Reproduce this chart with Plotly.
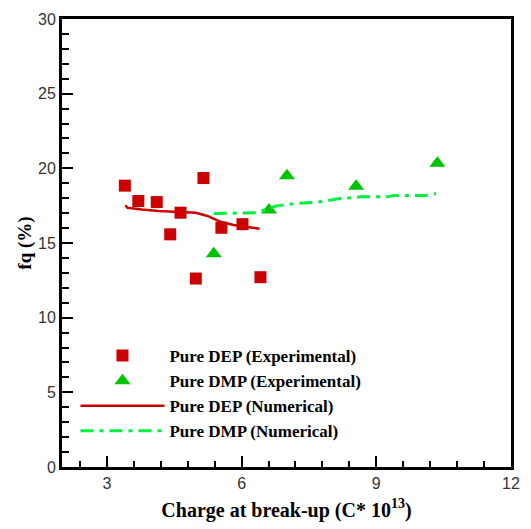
import plotly.graph_objects as go

# Experimental data
dep_exp_x = [3.40, 3.70, 4.11, 4.64, 4.41, 5.15, 4.98, 5.55, 6.02, 6.42]
dep_exp_y = [18.84, 17.81, 17.74, 17.03, 15.58, 19.35, 12.62, 16.02, 16.26, 12.71]
dmp_exp_x = [5.38, 6.61, 7.01, 8.55, 10.36]
dmp_exp_y = [14.28, 17.21, 19.50, 18.80, 20.34]

# Numerical data
dep_num_x = [3.41, 3.46, 3.78, 4.15, 4.98, 5.24, 5.53, 5.82, 6.40]
dep_num_y = [17.52, 17.36, 17.25, 17.15, 17.03, 16.81, 16.42, 16.20, 15.95]
dmp_num_x = [5.38, 6.33, 6.77, 7.20, 7.71, 8.15, 8.66, 9.24, 9.38, 10.10, 10.33]
dmp_num_y = [16.97, 17.03, 17.48, 17.65, 17.74, 17.96, 18.09, 18.09, 18.18, 18.18, 18.31]

x_ticks = [3, 6, 9, 12]
y_ticks = [0, 5, 10, 15, 20, 25, 30]

RED = "#CC0000"
GREEN_M = "#00C400"
GREEN_L = "#00F040"
SERIF = "Liberation Serif, Times New Roman, serif"
SANS = "Liberation Sans, Arial, sans-serif"

fig = go.Figure()
fig.add_trace(go.Scatter(x=dep_exp_x, y=dep_exp_y, mode="markers",
                         name="Pure DEP (Experimental)",
                         marker=dict(symbol="square", size=12, color=RED)))
fig.add_trace(go.Scatter(x=dmp_exp_x, y=dmp_exp_y, mode="markers",
                         name="Pure DMP (Experimental)",
                         marker=dict(symbol="triangle-up", size=14, color=GREEN_M)))
fig.add_trace(go.Scatter(x=dep_num_x, y=dep_num_y, mode="lines",
                         name="Pure DEP (Numerical)",
                         line=dict(color=RED, width=2.5)))
fig.add_trace(go.Scatter(x=dmp_num_x, y=dmp_num_y, mode="lines",
                         name="Pure DMP (Numerical)",
                         line=dict(color=GREEN_L, width=3, dash="13px,6px,4px,6px")))

fig.update_layout(
    width=531, height=529,
    margin=dict(l=62, r=11, t=13, b=62),
    paper_bgcolor="white", plot_bgcolor="white",
    showlegend=True,
    legend=dict(x=0.03, y=0.288, xanchor="left", yanchor="top",
                bgcolor="rgba(0,0,0,0)", itemwidth=84,
                font=dict(family=SERIF, size=17, color="black", weight="bold")),
    xaxis=dict(range=[2, 12], tickvals=x_ticks, ticktext=[str(v) for v in x_ticks],
               showgrid=False, zeroline=False,
               showline=True, linecolor="black", linewidth=3, mirror=True,
               ticks="inside", ticklen=11, tickwidth=2, tickcolor="black",
               minor=dict(dtick=0.6, tick0=3, ticks="inside", ticklen=6, tickwidth=1.5,
                          tickcolor="black", showgrid=False),
               tickfont=dict(family=SANS, size=16, color="#333333"),
               title=dict(text="<b>Charge at break-up (C* 10<sup>13</sup>)</b>",
                          font=dict(family=SERIF, size=20, color="black"), standoff=12)),
    yaxis=dict(range=[0, 30], tickvals=y_ticks, ticktext=[str(v) for v in y_ticks],
               showgrid=False, zeroline=False,
               showline=True, linecolor="black", linewidth=3, mirror=True,
               ticks="inside", ticklen=11, tickwidth=2, tickcolor="black",
               minor=dict(dtick=1, ticks="inside", ticklen=7, tickwidth=1.5,
                          tickcolor="black", showgrid=False),
               tickfont=dict(family=SANS, size=16, color="#333333"),
               title=dict(text="<b>fq (%)</b>",
                          font=dict(family=SERIF, size=19, color="black"), standoff=2)),
)

fig.write_html("out.html")
